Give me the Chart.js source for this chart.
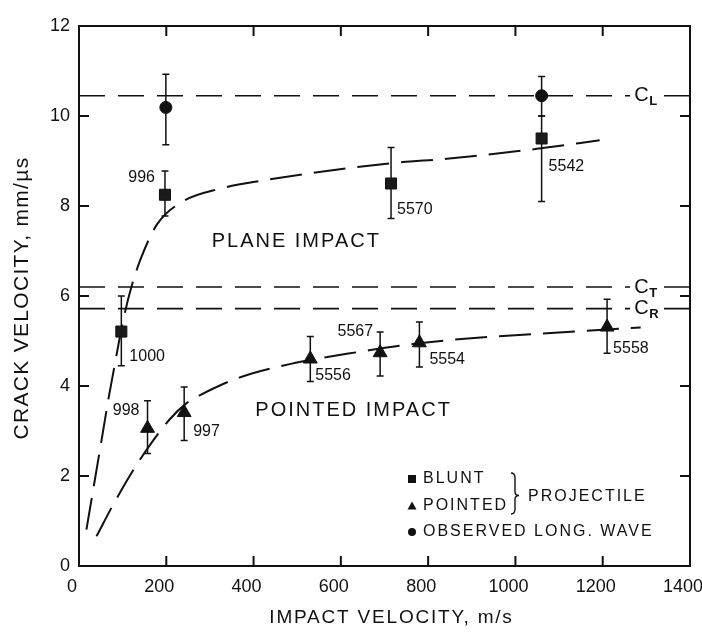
<!DOCTYPE html>
<html>
<head>
<meta charset="utf-8">
<script src="https://cdn.jsdelivr.net/npm/chart.js@4.4.1/dist/chart.umd.min.js"></script>
<style>
  html, body { margin: 0; padding: 0; background: #fff; }
  #wrap { width: 702px; height: 635px; }
</style>
</head>
<body>
<div id="wrap"><canvas id="crack-chart" width="702" height="635"></canvas></div>
<script>
// axis ticks
const xTicks = [0, 200, 400, 600, 800, 1000, 1200, 1400];
const yTicks = [0, 2, 4, 6, 8, 10, 12];

// blunt projectile (squares), shot numbers as labels
const bluntX = [97, 197, 715, 1060];
const bluntY = [5.21, 8.25, 8.5, 9.5];
const bluntLow = [4.45, 7.78, 7.72, 8.1];
const bluntHigh = [6.0, 8.78, 9.3, 10.0];
const bluntShots = ['1000', '996', '5570', '5542'];

// pointed projectile (triangles)
const pointedX = [157, 241, 530, 690, 780, 1210];
const pointedY = [3.06, 3.41, 4.6, 4.74, 4.96, 5.31];
const pointedLow = [2.5, 2.79, 4.1, 4.22, 4.42, 4.73];
const pointedHigh = [3.67, 3.98, 5.1, 5.2, 5.42, 5.93];
const pointedShots = ['998', '997', '5556', '5567', '5554', '5558'];

// observed longitudinal wave (circles)
const waveX = [199, 1060];
const waveY = [10.19, 10.45];
const waveLow = [9.36, 10.0];
const waveHigh = [10.93, 10.88];

// dashed fitted curves
const planeCurveX = [17, 54, 68, 78, 102, 120, 142, 178, 234, 325, 417, 724, 843, 1049, 1193];
const planeCurveY = [0.81, 2.93, 3.74, 4.27, 5.49, 6.2, 6.84, 7.58, 8.08, 8.39, 8.56, 8.96, 9.05, 9.27, 9.46];
const pointedCurveX = [40, 81, 136, 207, 248, 282, 365, 494, 617, 807, 1150, 1287];
const pointedCurveY = [0.66, 1.41, 2.31, 3.25, 3.63, 3.82, 4.18, 4.51, 4.72, 4.98, 5.22, 5.3];

// wave speeds
const waveNames = ['L', 'T', 'R'];
const waveSpeeds = [10.45, 6.2, 5.72];

const ink = '#111';
const fontFamily = '"Liberation Sans", Arial, sans-serif';

// label placement for shot numbers: [align, dx, dy]
const shotLabelPos = {
  '996': ['right', -10, -17], '1000': ['left', 8, 25], '5570': ['left', 6, 26],
  '5542': ['left', 7, 28], '998': ['right', -8, -18], '997': ['left', 9, 19],
  '5556': ['left', 5, 17], '5567': ['right', -7, -21], '5554': ['left', 10, 17],
  '5558': ['left', 6, 22]
};

const toPoints = (xs, ys) => xs.map((v, i) => ({ x: v, y: ys[i] }));

const curveStyle = {
  type: 'scatter', showLine: true, pointRadius: 0, borderColor: ink,
  borderWidth: 2, borderDash: [32, 12], cubicInterpolationMode: 'monotone', fill: false
};

const speedLines = waveSpeeds.map((v, i) => ({
  type: 'scatter', label: 'C' + waveNames[i], data: [{ x: 0, y: v }, { x: 1400, y: v }],
  showLine: true, pointRadius: 0, borderColor: ink, borderWidth: 1.6, borderDash: [26, 13]
}));

function spaced(ctx, text, x, y, spacing) {
  ctx.letterSpacing = spacing + 'px';
  ctx.fillText(text, x, y);
  ctx.letterSpacing = '0px';
}

const paperPlugin = {
  id: 'paper',
  beforeDatasetsDraw(chart) {
    const { ctx, scales: { x, y } } = chart;
    ctx.save();
    ctx.strokeStyle = ink;
    ctx.lineWidth = 1.5;
    const bars = (xs, lo, hi) => xs.forEach((v, i) => {
      const px = x.getPixelForValue(v);
      const a = y.getPixelForValue(lo[i]);
      const b = y.getPixelForValue(hi[i]);
      ctx.beginPath();
      ctx.moveTo(px, a); ctx.lineTo(px, b);
      ctx.moveTo(px - 3.5, a); ctx.lineTo(px + 3.5, a);
      ctx.moveTo(px - 3.5, b); ctx.lineTo(px + 3.5, b);
      ctx.stroke();
    });
    bars(bluntX, bluntLow, bluntHigh);
    bars(pointedX, pointedLow, pointedHigh);
    bars(waveX, waveLow, waveHigh);
    ctx.restore();
  },
  afterDatasetsDraw(chart) {
    const { ctx, chartArea: area, scales: { x, y } } = chart;
    ctx.save();
    ctx.fillStyle = ink;
    ctx.strokeStyle = ink;

    // frame and inward ticks
    ctx.lineWidth = 2;
    ctx.strokeRect(area.left, area.top, area.right - area.left, area.bottom - area.top);
    ctx.beginPath();
    xTicks.slice(1, -1).forEach(v => {
      const px = x.getPixelForValue(v);
      ctx.moveTo(px, area.bottom); ctx.lineTo(px, area.bottom - 10);
      ctx.moveTo(px, area.top); ctx.lineTo(px, area.top + 10);
    });
    yTicks.slice(1, -1).forEach(v => {
      const py = y.getPixelForValue(v);
      ctx.moveTo(area.left, py); ctx.lineTo(area.left + 10, py);
      ctx.moveTo(area.right, py); ctx.lineTo(area.right - 10, py);
    });
    ctx.stroke();

    // wave speed labels C_L, C_T, C_R
    waveSpeeds.forEach((v, i) => {
      const px = x.getPixelForValue(1272);
      const py = y.getPixelForValue(v);
      ctx.fillStyle = '#fff';
      ctx.fillRect(px - 4, py - 9, 32, 18);
      ctx.fillStyle = ink;
      ctx.textBaseline = 'middle';
      ctx.textAlign = 'left';
      ctx.font = '20px ' + fontFamily;
      ctx.fillText('C', px, py);
      ctx.font = 'bold 13px ' + fontFamily;
      ctx.fillText(waveNames[i], px + 15, py + 6);
    });

    // shot numbers
    ctx.font = '16px ' + fontFamily;
    ctx.textBaseline = 'middle';
    const shots = (xs, ys, names) => xs.forEach((v, i) => {
      const [align, dx, dy] = shotLabelPos[names[i]];
      ctx.textAlign = align;
      ctx.fillText(names[i], x.getPixelForValue(v) + dx, y.getPixelForValue(ys[i]) + dy);
    });
    shots(bluntX, bluntY, bluntShots);
    shots(pointedX, pointedY, pointedShots);

    // regime labels
    ctx.textAlign = 'left';
    ctx.font = '20px ' + fontFamily;
    spaced(ctx, 'PLANE IMPACT', x.getPixelForValue(304), y.getPixelForValue(7.21), 2);
    spaced(ctx, 'POINTED IMPACT', x.getPixelForValue(404), y.getPixelForValue(3.45), 2);

    // legend box
    const lx = area.left + 333;
    const rows = [area.top + 453, area.top + 480, area.top + 506];
    ctx.fillRect(lx - 4, rows[0] - 4, 8, 8);
    ctx.beginPath();
    ctx.moveTo(lx, rows[1] - 4.5); ctx.lineTo(lx + 4.5, rows[1] + 3.5); ctx.lineTo(lx - 4.5, rows[1] + 3.5);
    ctx.closePath(); ctx.fill();
    ctx.beginPath(); ctx.arc(lx, rows[2], 4, 0, Math.PI * 2); ctx.fill();
    ctx.font = '16px ' + fontFamily;
    spaced(ctx, 'BLUNT', lx + 11, rows[0], 2);
    spaced(ctx, 'POINTED', lx + 11, rows[1], 2);
    spaced(ctx, 'OBSERVED LONG. WAVE', lx + 11, rows[2], 2);
    // brace
    const bx = lx + 103, bt = rows[0] - 6, bb = rows[1] + 8, bm = (bt + bb) / 2 + 2;
    ctx.lineWidth = 1.4;
    ctx.beginPath();
    ctx.moveTo(bx - 4, bt);
    ctx.quadraticCurveTo(bx, bt, bx, bt + 5);
    ctx.lineTo(bx, bm - 4);
    ctx.quadraticCurveTo(bx, bm, bx + 4, bm);
    ctx.quadraticCurveTo(bx, bm, bx, bm + 4);
    ctx.lineTo(bx, bb - 5);
    ctx.quadraticCurveTo(bx, bb, bx - 4, bb);
    ctx.stroke();
    spaced(ctx, 'PROJECTILE', bx + 13, bm + 1, 2);

    // axis titles
    ctx.textAlign = 'center';
    ctx.font = '19px ' + fontFamily;
    spaced(ctx, 'IMPACT VELOCITY, m/s', (area.left + area.right) / 2 + 7, 618, 1.8);
    ctx.save();
    ctx.translate(22, (area.top + area.bottom) / 2 + 2);
    ctx.rotate(-Math.PI / 2);
    ctx.font = '21px ' + fontFamily;
    spaced(ctx, 'CRACK VELOCITY, mm/\u00b5s', 0, 0, 1.3);
    ctx.restore();

    ctx.restore();
  }
};

new Chart(document.getElementById('crack-chart'), {
  type: 'scatter',
  data: {
    datasets: [
      { label: 'BLUNT', data: toPoints(bluntX, bluntY), pointStyle: 'rect', pointRadius: 7.8,
        backgroundColor: '#1a1a1a', borderColor: ink, borderWidth: 1 },
      { label: 'POINTED', data: toPoints(pointedX, pointedY), pointStyle: 'triangle', pointRadius: 8,
        backgroundColor: ink, borderColor: ink, borderWidth: 1 },
      { label: 'OBSERVED LONG. WAVE', data: toPoints(waveX, waveY), pointStyle: 'circle', pointRadius: 6,
        backgroundColor: ink, borderColor: ink, borderWidth: 1 },
      Object.assign({ label: 'PLANE IMPACT', data: toPoints(planeCurveX, planeCurveY) }, curveStyle),
      Object.assign({ label: 'POINTED IMPACT', data: toPoints(pointedCurveX, pointedCurveY) }, curveStyle),
      ...speedLines
    ]
  },
  options: {
    responsive: false,
    animation: false,
    layout: { padding: { top: 26, right: 12, left: 0, bottom: 0 } },
    plugins: { legend: { display: false }, tooltip: { enabled: false } },
    scales: {
      x: {
        type: 'linear', min: 0, max: 1400,
        afterFit: s => { s.height = 69; s.paddingLeft = 0; s.paddingRight = 0; },
        afterBuildTicks: s => { s.ticks = xTicks.map(v => ({ value: v })); },
        ticks: { color: ink, padding: 10, labelOffset: -7, font: { family: fontFamily, size: 18 }, callback: v => String(v) },
        grid: { display: false, drawTicks: false },
        border: { display: false }
      },
      y: {
        type: 'linear', min: 0, max: 12,
        afterFit: s => { s.width = 79; s.paddingTop = 0; s.paddingBottom = 0; },
        afterBuildTicks: s => { s.ticks = yTicks.map(v => ({ value: v })); },
        ticks: { color: ink, padding: 9, font: { family: fontFamily, size: 18 }, callback: v => String(v) },
        grid: { display: false, drawTicks: false },
        border: { display: false }
      }
    }
  },
  plugins: [paperPlugin]
});
</script>
</body>
</html>
